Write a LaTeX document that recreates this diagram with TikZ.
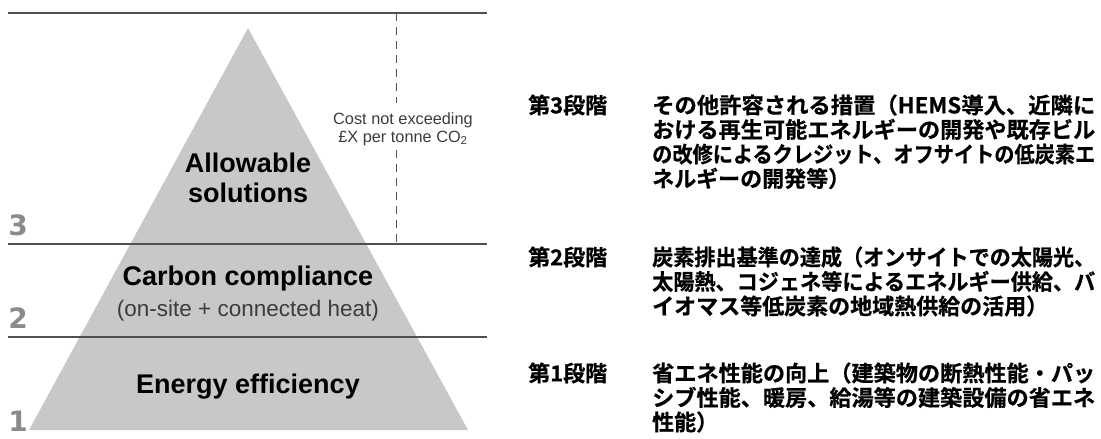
\documentclass[tikz,border=0pt]{standalone}
\usepackage{fontspec}
\usepackage{graphicx}
\setmainfont{Liberation Sans}
\newfontfamily\cjk{Noto Sans CJK JP}[BoldFont={Noto Sans CJK JP Bold},BoldFeatures={FakeBold=0.6}]
\newfontfamily\digitfont{DejaVu Sans}
\definecolor{trigray}{RGB}{200,200,200}
\definecolor{rulegray}{RGB}{80,80,80}
\definecolor{numgray}{RGB}{138,138,138}
\definecolor{textgray}{RGB}{60,60,60}
\newcommand\fl[1]{\resizebox{443pt}{\height}{#1}}
\begin{document}
\begin{tikzpicture}[x=1pt,y=-1pt,
  rulel/.style={draw=rulegray,line width=1.3pt},
  dashl/.style={draw=rulegray,line width=0.8pt,dash pattern=on 8pt off 6pt},
  engb/.style={font=\bfseries\fontsize{27}{30}\selectfont,inner sep=0,anchor=base},
  engl/.style={font=\fontsize{22.5}{26}\selectfont,text=textgray,inner sep=0,anchor=base},
  costl/.style={font=\fontsize{16.3}{18}\selectfont,text=textgray,inner sep=0,anchor=base},
  numl/.style={font=\digitfont\bfseries\fontsize{28}{30}\selectfont,text=numgray,inner sep=0,anchor=base},
  jp/.style={font=\cjk\bfseries\fontsize{22}{24.5}\selectfont,inner sep=0,anchor=base west}]
\useasboundingbox (0,0) rectangle (1101,439);
% pyramid
\coordinate (apex) at (248,28);
\coordinate (bl) at (29,430);
\coordinate (br) at (468,430);
\fill[trigray] (apex) -- (br) -- (bl) -- cycle;
% rules
\coordinate (r0a) at (8,13);   \coordinate (r0b) at (487,13);
\coordinate (r3a) at (8,244);  \coordinate (r3b) at (487,244);
\coordinate (r2a) at (8,337);  \coordinate (r2b) at (487,337);
\draw[rulel] (r0a) -- (r0b);
\draw[rulel] (r3a) -- (r3b);
\draw[rulel] (r2a) -- (r2b);
% level numbers
\node[numl] (n3) at (18,235) {3};
\node[numl] (n2) at (18,328) {2};
\node[numl] (n1) at (18,431) {1};
% pyramid texts
\node[engb] (al1) at (248,172) {Allowable};
\node[engb] (al2) at (248,202) {solutions};
\node[engb] (cc) at (248,285) {Carbon compliance};
\node[engl] (cc2) at (248,316) {(on-site + connected heat)};
\node[engb] (ee) at (248,393) {Energy efficiency};
\node[costl] (c1) at (403,124) {Cost not exceeding};
\node[costl] (c2) at (403,142) {£X per tonne CO\textsubscript{2}};
% dashed cost limit
\coordinate (dt) at (396,13);
\coordinate (db) at (396,244);
\draw[dashl] (dt) -- (dt |- 0,103);
\draw[dashl] (db |- 0,150) -- (db);
% Japanese texts
\node[jp] (s3) at (528,113.4) {第3段階};
\node[jp] (t3a) at (652,113.4) {\fl{その他許容される措置（HEMS導入、近隣に}};
\node[jp] (t3b) at (652,137.9) {\fl{おける再生可能エネルギーの開発や既存ビル}};
\node[jp] (t3c) at (652,162.4) {\fl{の改修によるクレジット、オフサイトの低炭素エ}};
\node[jp] (t3d) at (652,186.9) {ネルギーの開発等）};
\node[jp] (s2) at (528,265.4) {第2段階};
\node[jp] (t2a) at (652,265.4) {\fl{炭素排出基準の達成（オンサイトでの太陽光、}};
\node[jp] (t2b) at (652,289.9) {\fl{太陽熱、コジェネ等によるエネルギー供給、バ}};
\node[jp] (t2c) at (652,314.4) {イオマス等低炭素の地域熱供給の活用）};
\node[jp] (s1) at (528,381.4) {第1段階};
\node[jp] (t1a) at (652,381.4) {\fl{省エネ性能の向上（建築物の断熱性能・パッ}};
\node[jp] (t1b) at (652,405.9) {\fl{シブ性能、暖房、給湯等の建築設備の省エネ}};
\node[jp] (t1c) at (652,430.4) {性能）};
\end{tikzpicture}
\end{document}
